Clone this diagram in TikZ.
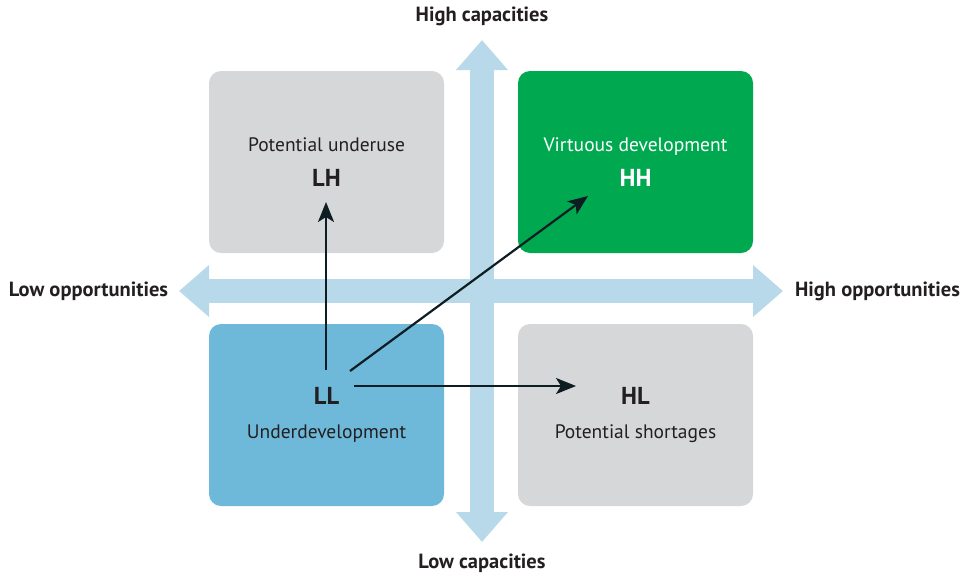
\documentclass[tikz,border=0pt]{standalone}
\usepackage{fontspec}
\setmainfont{PT Sans}
\usetikzlibrary{positioning, arrows.meta}
\definecolor{boxgrey}{HTML}{D6D7D9}
\definecolor{hhgreen}{HTML}{00A94F}
\definecolor{llblue}{HTML}{6EB8DA}
\definecolor{axisblue}{HTML}{B8D9E9}
\definecolor{arrowdark}{HTML}{0E1D22}
\definecolor{inkdark}{HTML}{231F20}
\newcommand{\quadcode}[1]{{\bfseries\fontsize{24.5}{28}\selectfont #1}}

\begin{document}
\begin{tikzpicture}[
    x=1pt, y=-1pt,
    node distance=253pt and 309pt,
    on grid,
    quad/.style={rounded corners=12pt, minimum width=235pt, minimum height=182pt,
                 align=center, text=inkdark, font=\fontsize{19.5}{23}\selectfont},
    pole/.style={text=inkdark, font=\bfseries\fontsize{20.5}{24}\selectfont},
    axis/.style={axisblue, line width=24pt,
                 {Triangle[width=50pt,length=30pt]}-{Triangle[width=50pt,length=30pt]}},
    move/.style={arrowdark, line width=2.2pt, -{Stealth[length=20pt,width=16pt,inset=5pt]}}
]
   \useasboundingbox (0,0) rectangle (971,576);

   % Axes
   \coordinate (west) at (179,291);
   \coordinate (east) at (783,291);
   \coordinate (north) at (482,40);
   \coordinate (south) at (482,542);
   \draw[axis] (west) -- (east);
   \draw[axis] (south) -- (north);

   \node[pole] (highcap) at (482,16) {High capacities};
   \node[pole] (lowcap) at (482,563) {Low capacities};
   \node[pole] (lowopp) at (88.5,291) {Low opportunities};
   \node[pole] (highopp) at (877.5,291) {High opportunities};

   % Quadrants
   \node[quad, fill=boxgrey] (lh) at (326.5,162) {Potential underuse\\[12pt]\quadcode{LH}};
   \node[quad, fill=hhgreen, text=white] (hh) [right=of lh] {Virtuous development\\[12pt]\quadcode{HH}};
   \node[quad, fill=llblue] (ll) [below=of lh] {\quadcode{LL}\\[11pt]Underdevelopment};
   \node[quad, fill=boxgrey] (hl) [right=of ll] {\quadcode{HL}\\[11pt]Potential shortages};

   % Moves out of LL
   \coordinate (upfrom) at (326,370);
   \coordinate (upto) at (326,202);
   \coordinate (diagfrom) at (350,371);
   \coordinate (diagto) at (588,196);
   \coordinate (sidefrom) at (354,386);
   \coordinate (sideto) at (576,386);
   \draw[move] (upfrom) -- (upto);
   \draw[move] (diagfrom) -- (diagto);
   \draw[move] (sidefrom) -- (sideto);
\end{tikzpicture}
\end{document}
